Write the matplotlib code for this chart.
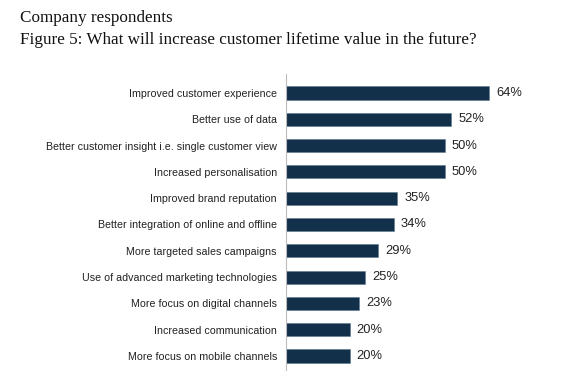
import matplotlib
matplotlib.use("Agg")
import matplotlib.pyplot as plt

categories = ["Improved customer experience", "Better use of data",
              "Better customer insight i.e. single customer view",
              "Increased personalisation", "Improved brand reputation",
              "Better integration of online and offline",
              "More targeted sales campaigns",
              "Use of advanced marketing technologies",
              "More focus on digital channels", "Increased communication",
              "More focus on mobile channels"]
values = [64, 52, 50, 50, 35, 34, 29, 25, 23, 20, 20]

fig = plt.figure(figsize=(5.77, 3.91), dpi=100)
ax = fig.add_axes([286/577, 1-370/391, 254/577, 296/391])
pos = list(range(len(categories)))
ax.barh(pos, values, height=0.5, color="#12304a", edgecolor="#5a7890", linewidth=0.4)
for p, v in zip(pos, values):
    ax.text(v + 2.2, p, f"{v}%", va="center", ha="left", fontsize=9.3,
            family="Liberation Sans", color="#222222")
ax.set_yticks(pos)
ax.set_yticklabels(categories, fontsize=7.7, family="Liberation Sans", color="#222222")
ax.set_xlim(0, 80)
ax.set_ylim(10.53, -0.72)
ax.set_xticks([])
ax.tick_params(axis="y", length=0, pad=6.5)
for s in ["top", "right", "bottom"]:
    ax.spines[s].set_visible(False)
ax.spines["left"].set_color("#bbbbbb")
ax.spines["left"].set_linewidth(0.8)

fig.text(20/577, 1-18/391, "Company respondents", fontsize=12.3,
         family="Liberation Serif", va="center", ha="left", color="#111111")
fig.text(20/577, 1-40/391, "Figure 5: What will increase customer lifetime value in the future?",
         fontsize=12.3, family="Liberation Serif", va="center", ha="left", color="#111111")
fig.savefig("out.png", dpi=100)
